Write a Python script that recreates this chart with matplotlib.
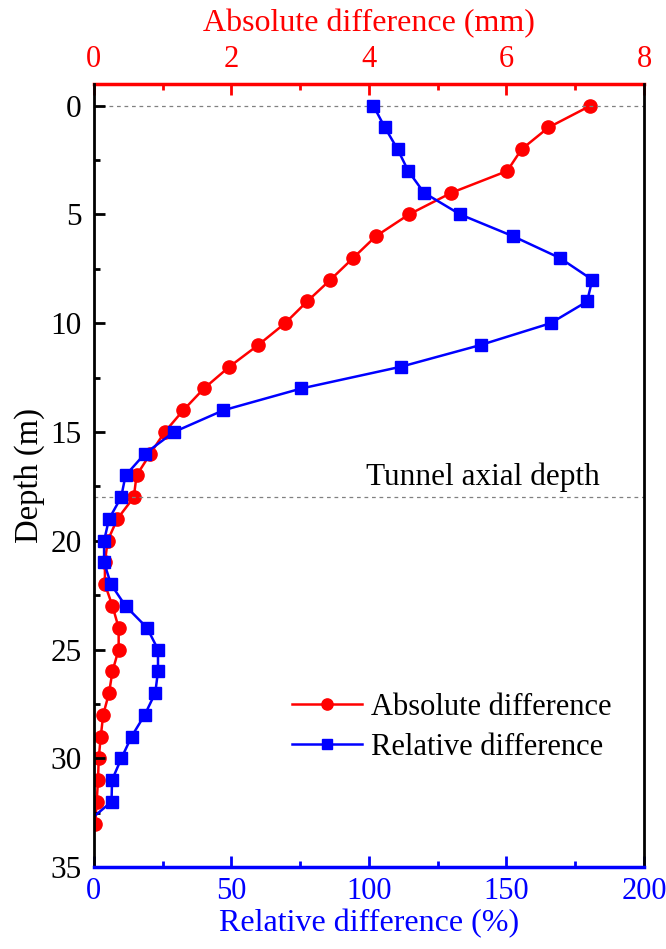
import matplotlib
matplotlib.use("Agg")
import matplotlib.pyplot as plt
from matplotlib.ticker import MultipleLocator

plt.rcParams['font.family'] = ['Liberation Serif', 'DejaVu Serif']
plt.rcParams['mathtext.fontset'] = 'stix'

# Dane
depth = list(range(0, 34))
abs_diff = [7.22, 6.61, 6.22, 6.01, 5.20, 4.58, 4.10, 3.77, 3.44, 3.10,
            2.78, 2.39, 1.97, 1.60, 1.30, 1.03, 0.82, 0.62, 0.58, 0.34,
            0.20, 0.16, 0.16, 0.27, 0.36, 0.36, 0.27, 0.22, 0.135, 0.10,
            0.07, 0.06, 0.04, 0.02]
rel_diff = [101.6, 105.8, 110.4, 114.3, 120.0, 133.2, 152.4, 169.4, 181.2, 179.3,
            166.0, 140.6, 111.6, 75.4, 47.1, 29.1, 18.5, 11.5, 9.9, 5.5,
            3.7, 3.7, 6.2, 11.5, 19.3, 23.3, 23.3, 22.3, 18.5, 13.7,
            10.0, 6.6, 6.4, -3.0]
ref_depths = [0, 18]

fig = plt.figure(figsize=(6.66, 9.49), dpi=100)
ax = fig.add_axes([0.141, 0.0864, 0.826, 0.8251])
ax2 = ax.twiny()

# linie pomocnicze
for d in ref_depths:
    ax.axhline(d, color='gray', ls=(0, (3, 3)), lw=0.9, zorder=0)
ax.text(141.3, 17.45, 'Tunnel axial depth', fontsize=22.5, ha='center', va='baseline')

l2, = ax2.plot(abs_diff, depth, color='red', marker='o', ms=9.5, lw=1.8,
               label='Absolute difference')
l1, = ax.plot(rel_diff, depth, color='blue', marker='s', ms=8.5, lw=1.8,
              label='Relative difference')
ax.set_zorder(ax2.get_zorder() + 1)
ax.patch.set_visible(False)

ax.set_xlim(0, 200)
ax2.set_xlim(0, 8)
ax.set_ylim(35, -1)
ax.yaxis.set_major_locator(MultipleLocator(5))
ax.yaxis.set_minor_locator(MultipleLocator(2.5))
ax.xaxis.set_major_locator(MultipleLocator(50))
ax.xaxis.set_minor_locator(MultipleLocator(25))
ax2.xaxis.set_major_locator(MultipleLocator(2))
ax2.xaxis.set_minor_locator(MultipleLocator(1))

ax.set_xlabel('Relative difference (%)', color='blue', fontsize=23, labelpad=2)
ax.set_ylabel('Depth (m)', fontsize=23.5, labelpad=4)
ax2.set_xlabel('Absolute difference (mm)', color='red', fontsize=23, labelpad=10)

ax.tick_params(axis='x', which='both', direction='in', colors='blue', labelsize=22,
               width=2, top=False, pad=7)
ax.tick_params(axis='x', which='major', length=8)
ax.tick_params(axis='x', which='minor', length=4)
ax.tick_params(axis='y', which='both', direction='in', labelsize=22.5, width=2,
               right=False, pad=9)
ax.tick_params(axis='y', which='major', length=8)
ax.tick_params(axis='y', which='minor', length=4)
ax2.tick_params(axis='x', which='both', direction='in', colors='red', labelsize=22,
                width=2, bottom=False, pad=7)
ax2.tick_params(axis='x', which='major', length=8)
ax2.tick_params(axis='x', which='minor', length=4)

for s in ['left', 'right']:
    ax.spines[s].set_linewidth(2)
    ax2.spines[s].set_visible(False)
ax.spines['top'].set_visible(False)
ax.spines['bottom'].set_color('blue')
ax.spines['bottom'].set_linewidth(2.5)
ax2.spines['bottom'].set_visible(False)
ax2.spines['top'].set_color('red')
ax2.spines['top'].set_linewidth(2.5)

ax.legend(handles=[l2, l1], loc='upper left', bbox_to_anchor=(0.36, 0.222),
          frameon=False, fontsize=22, handlelength=2.3, handletextpad=0.3,
          labelspacing=0.36, borderpad=0, borderaxespad=0, markerscale=0.85)

fig.savefig('out.png', dpi=100)
